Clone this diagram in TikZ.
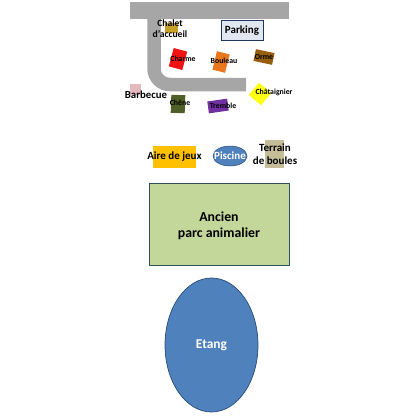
\documentclass[tikz,border=0pt]{standalone}
\usepackage{fontspec}
\setmainfont{Carlito}
\usetikzlibrary{positioning,shapes.geometric}
\definecolor{roadG}{RGB}{166,166,166}
\definecolor{parkF}{RGB}{225,231,240}
\definecolor{parkB}{RGB}{31,56,90}
\definecolor{chaletC}{RGB}{200,160,40}
\definecolor{charmeC}{RGB}{240,20,20}
\definecolor{bouleauC}{RGB}{232,120,30}
\definecolor{ormeC}{RGB}{150,95,15}
\definecolor{chatC}{RGB}{255,255,20}
\definecolor{cheneC}{RGB}{80,95,40}
\definecolor{trembleC}{RGB}{112,48,160}
\definecolor{bbqC}{RGB}{230,185,190}
\definecolor{jeuxC}{RGB}{255,192,0}
\definecolor{eauC}{RGB}{79,129,189}
\definecolor{eauB}{RGB}{40,75,115}
\definecolor{boulesC}{RGB}{196,189,151}
\definecolor{parcC}{RGB}{196,215,155}
\definecolor{parcB}{RGB}{45,80,90}

\begin{document}
\begin{tikzpicture}[x=1pt,y=-1pt, every node/.style={font=\bfseries\fontsize{11}{13}\selectfont, text=black, inner sep=0pt, align=center},
    lab/.style={font=\bfseries\fontsize{7.8}{9}\selectfont}]
  \useasboundingbox (0,0) rectangle (420,420);

  % Road
  \fill[roadG] (130,2) rectangle (289,19);
  \draw[roadG, line width=13.5pt, rounded corners=16pt] (154,19) -- (154,84.5) -- (246,84.5);

  % Buildings and trees
  \node[fill=parkF, draw=parkB, line width=1pt, minimum width=42pt, minimum height=20pt] (parking) at (242,31) {Parking};
  \fill[chaletC] (165,23) rectangle (178,33);
  \node[font=\bfseries\fontsize{9.6}{11}\selectfont] (chalet) at (170,28.5) {Chalet\\d'accueil};

  \foreach \nm/\cx/\cy/\bw/\bh/\ang/\col/\tx/\ty/\lab in {
    charme/178/59/14/19/15/charmeC/183/59/Charme,
    bouleau/221/62/13/19/14/bouleauC/224/61/Bouleau,
    orme/264/57/19/12/12/ormeC/264/57/Orme,
    chene/178/104/14/18/2/cheneC/180/103/Chêne,
    tremble/218/106/20/12/-8/trembleC/223/106/Tremble,
    chat/260/94/16/16/40/chatC/274/92/Châtaignier} {
    \node[fill=\col, minimum width=\bw pt, minimum height=\bh pt, rotate=-\ang] (\nm) at (\cx,\cy) {};
    \node[lab] (\nm t) at (\tx,\ty) {\lab};
  }

  % Barbecue
  \fill[bbqC] (130,84) rectangle (141,95);
  \node[font=\bfseries\fontsize{10.8}{12}\selectfont] (bbq) at (146,95) {Barbecue};

  % Activities
  \fill[jeuxC] (153,146) rectangle (196,168);
  \node (jeux) at (174.5,157) {Aire de jeux};
  \node[ellipse, fill=eauC, draw=eauB, line width=.5pt, minimum width=34pt, minimum height=20pt] (piscine) at (230,156) {};
  \node[text=white] (piscine t) at (230,156) {Piscine};
  \fill[boulesC] (265,140) rectangle (284,168);
  \node (boules) at (275,154.5) {Terrain\\de boules};

  % Ancien parc
  \node[fill=parcC, draw=parcB, line width=1pt, minimum width=140pt, minimum height=82pt] (parc) at (219,224) {};
  \node[font=\bfseries\fontsize{13.8}{16.5}\selectfont] (parc t) at (219,225.5) {Ancien\\parc animalier};

  % Etang
  \node[ellipse, fill=eauC, draw=eauB, line width=.7pt, minimum width=93pt, minimum height=134pt] (etang) at (211.5,345) {};
  \node[text=white, font=\bfseries\fontsize{13.5}{15}\selectfont] (etang t) at (211.5,345.5) {Etang};
\end{tikzpicture}
\end{document}
